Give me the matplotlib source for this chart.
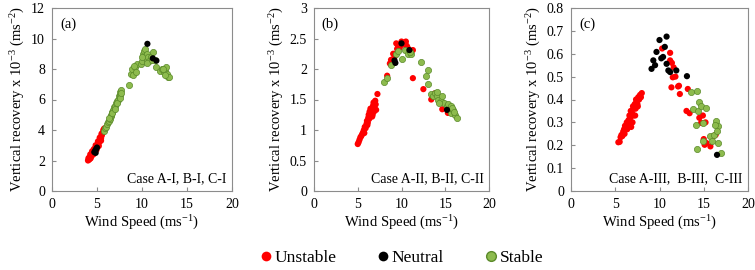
import matplotlib
matplotlib.use("Agg")
import matplotlib.pyplot as plt
from matplotlib.lines import Line2D

plt.rcParams['font.family'] = ['Liberation Serif', 'DejaVu Serif']
plt.rcParams['mathtext.fontset'] = 'custom'
plt.rcParams['mathtext.rm'] = 'Liberation Serif'
plt.rcParams['mathtext.default'] = 'regular'

# ---------------- data ----------------
# Panel (a)
a_unst_x = [4.0,4.1,4.2,4.15,4.3,4.35,4.4,4.5,4.55,4.6,4.7,4.75,4.8,4.9,5.0,5.05,5.1,5.15,5.2,5.25,5.3,5.35,5.4,5.45,5.5,5.55,5.6,5.7,5.8,
            4.05,4.25,4.45,4.65,4.85,5.1,5.3,5.5,4.3,4.6,4.95,5.2,5.45]
a_unst_y = [2.0,2.05,2.1,2.2,2.25,2.35,2.3,2.45,2.5,2.6,2.55,2.7,2.8,2.85,2.9,3.0,3.1,3.05,3.2,3.3,3.25,3.4,3.5,3.45,3.6,3.7,3.8,4.0,4.1,
            2.15,2.4,2.6,2.75,3.0,3.25,3.5,3.75,2.15,2.4,2.7,2.95,3.3]
a_neut_x = [4.7,4.8,4.9,5.0,4.85,10.6,11.6,11.2]
a_neut_y = [2.55,2.65,2.75,2.85,2.5,9.65,8.55,8.7]
a_stab_x = [5.8,5.9,6.0,6.1,6.2,6.3,6.4,6.5,6.6,6.7,6.8,6.9,7.0,7.1,7.2,7.3,7.4,7.5,7.6,7.7,
            8.5,8.8,8.9,9.0,9.2,9.3,9.4,9.9,10.0,10.1,10.2,10.3,10.4,10.5,10.6,10.7,10.8,11.0,11.2,11.4,
            11.5,12.0,12.2,12.4,12.5,12.7,12.8,12.9,13.0,
            6.35,6.65,6.95,7.25,7.55,7.7,9.1,10.0,10.5,11.1,12.3,12.6]
a_stab_y = [3.95,4.1,4.2,4.4,4.5,4.6,4.75,4.9,5.0,5.2,5.3,5.5,5.6,5.75,5.9,6.0,6.2,6.3,6.5,6.6,
            6.95,7.7,8.0,7.6,8.1,7.8,8.3,8.3,8.5,9.0,9.2,9.3,8.9,8.6,9.0,8.8,8.5,8.8,9.1,8.6,
            8.1,7.9,8.0,7.8,7.85,8.1,7.7,7.5,7.45,
            4.8,5.1,5.4,5.8,6.1,6.45,8.2,8.8,8.4,8.6,8.0,7.6]

# Panel (b)
b_unst_x = [5.0,5.1,5.2,5.3,5.4,5.5,5.6,5.7,5.8,5.9,6.0,6.05,6.1,6.2,6.25,6.3,6.35,6.4,6.5,6.55,
            6.6,6.7,6.75,6.8,6.9,7.0,7.05,7.1,7.25,5.75,6.15,6.45,6.65,6.85,
            8.36,8.67,8.8,9.05,9.2,9.4,9.6,9.8,10.0,10.2,10.5,10.7,11.3,11.3,12.5,13.4,13.8,14.66,15.3,
            9.3,9.5,9.9,10.3,10.6]
b_unst_y = [0.77,0.8,0.84,0.88,0.9,0.93,0.96,1.0,1.05,1.03,1.1,1.15,1.08,1.2,1.25,1.18,1.3,1.22,1.28,1.35,
            1.32,1.25,1.4,1.45,1.38,1.48,1.42,1.33,1.59,0.95,1.12,1.35,1.22,1.3,
            1.89,2.09,2.15,2.25,2.2,2.42,2.38,2.35,2.45,2.4,2.45,2.35,2.31,1.85,1.67,1.5,1.6,1.34,1.28,
            2.25,2.33,2.4,2.43,2.38]
b_neut_x = [9.2,9.3,10.0,10.9,15.2]
b_neut_y = [2.14,2.1,2.42,2.31,1.33]
b_stab_x = [8.0,8.3,8.85,9.4,9.6,10.0,10.4,10.7,11.1,11.0,12.2,12.8,13.0,13.0,13.4,13.6,13.8,14.0,14.2,14.47,
            14.6,14.8,15.15,15.3,15.5,15.7,15.9,16.1,16.3,14.1,14.3,15.6,15.8,16.0]
b_stab_y = [1.79,1.85,2.06,2.25,2.3,2.17,2.31,2.25,2.24,2.28,2.11,1.88,1.98,1.75,1.59,1.55,1.6,1.56,1.5,1.48,
            1.55,1.45,1.39,1.42,1.35,1.28,1.32,1.25,1.2,1.62,1.44,1.4,1.36,1.3]

# Panel (c)
c_unst_x = [5.35,5.5,5.6,5.7,5.8,5.9,6.0,6.1,6.2,6.3,6.4,6.5,6.6,6.7,6.75,6.8,6.9,7.0,7.05,7.1,
            7.2,7.3,7.35,7.4,7.5,7.6,7.7,7.8,7.9,8.0,6.05,6.35,6.95,7.25,7.55,
            10.3,11.2,11.2,11.4,11.5,11.35,11.6,11.8,12.1,12.3,12.2,13.05,13.2,13.4,14.5,14.7,14.9,15.0,15.1,15.2,
            15.75,16.05,16.35,15.3]
c_unst_y = [0.213,0.215,0.235,0.245,0.24,0.26,0.27,0.285,0.275,0.3,0.29,0.31,0.33,0.32,0.35,0.28,0.34,0.37,0.33,0.36,
            0.38,0.36,0.4,0.39,0.38,0.41,0.4,0.42,0.41,0.428,0.25,0.27,0.3,0.33,0.37,
            0.623,0.604,0.571,0.56,0.497,0.453,0.54,0.5,0.457,0.424,0.46,0.35,0.446,0.34,0.32,0.298,0.33,0.227,0.202,0.3,
            0.195,0.239,0.246,0.21]
c_neut_x = [9.1,9.3,9.66,10.0,10.8,10.6,10.4,10.8,11.0,11.9,13.1,16.5,9.5,10.2,11.2]
c_neut_y = [0.534,0.571,0.608,0.66,0.675,0.63,0.586,0.556,0.527,0.527,0.502,0.158,0.55,0.58,0.52]
c_stab_x = [13.6,14.2,13.8,14.4,14.1,14.5,14.7,15.3,14.9,14.2,14.9,15.75,16.2,16.4,16.6,16.5,16.6,16.9,16.3,15.9]
c_stab_y = [0.431,0.438,0.357,0.35,0.29,0.387,0.372,0.365,0.298,0.183,0.217,0.239,0.246,0.306,0.283,0.261,0.21,0.168,0.29,0.22]

panels = [
    dict(tag='(a)', case='Case A-I, B-I, C-I', ylim=12, yticks=[0,2,4,6,8,10,12],
         ytl=['0','2','4','6','8','10','12'],
         u=(a_unst_x, a_unst_y), n=(a_neut_x, a_neut_y), s=(a_stab_x, a_stab_y), left=52, width=180),
    dict(tag='(b)', case='Case A-II, B-II, C-II', ylim=3, yticks=[0,0.5,1,1.5,2,2.5,3],
         ytl=['0','0.5','1','1.5','2','2.5','3'],
         u=(b_unst_x, b_unst_y), n=(b_neut_x, b_neut_y), s=(b_stab_x, b_stab_y), left=314, width=175),
    dict(tag='(c)', case='Case A-III,  B-III,  C-III', ylim=0.8, yticks=[0,0.1,0.2,0.3,0.4,0.5,0.6,0.7,0.8],
         ytl=['0','0.1','0.2','0.3','0.4','0.5','0.6','0.7','0.8'],
         u=(c_unst_x, c_unst_y), n=(c_neut_x, c_neut_y), s=(c_stab_x, c_stab_y), left=571, width=177),
]

W, H = 755, 270
fig = plt.figure(figsize=(W/100, H/100), dpi=100)

RED = '#FF0000'
GREEN = '#8DBB4E'
GREEN_EDGE = '#5B8A2A'
GRAY = '#8C8C8C'
ms = 20

for p in panels:
    ax = fig.add_axes([p['left']/W, 1-191/H, p['width']/W, 183/H])
    ax.scatter(*p['u'], s=ms, c=RED, edgecolors='none', zorder=3)
    ax.scatter(*p['s'], s=ms, c=GREEN, edgecolors=GREEN_EDGE, linewidths=0.5, zorder=3)
    ax.scatter(*p['n'], s=ms, c='black', edgecolors='none', zorder=4)
    ax.set_xlim(0, 20)
    ax.set_ylim(0, p['ylim'])
    ax.set_xticks([0,5,10,15,20])
    ax.set_yticks(p['yticks'])
    ax.set_yticklabels(p['ytl'])
    for sp in ax.spines.values():
        sp.set_color(GRAY)
        sp.set_linewidth(0.8)
    ax.tick_params(direction='in', length=3, width=0.8, color=GRAY, labelcolor='black',
                   labelsize=10, pad=5)
    ax.set_xlabel('Wind Speed (ms$^{-1}$)', fontsize=10.5, labelpad=2)
    ax.set_ylabel('Vertical recovery x 10$^{-3}$ (ms$^{-2}$)', fontsize=10.5, labelpad=3)
    ax.text(0.045, 0.91, p['tag'], transform=ax.transAxes, fontsize=10.5, va='center', ha='left')
    ax.text(0.97, 0.065, p['case'], transform=ax.transAxes, fontsize=10, va='center', ha='right')

handles = [
    Line2D([], [], marker='o', ls='none', markersize=7, markerfacecolor=RED, markeredgecolor='none', label='Unstable'),
    Line2D([], [], marker='o', ls='none', markersize=7, markerfacecolor='black', markeredgecolor='none', label='Neutral'),
    Line2D([], [], marker='o', ls='none', markersize=7, markerfacecolor=GREEN, markeredgecolor=GREEN_EDGE, label='Stable'),
]
fig.legend(handles=handles, loc='center', bbox_to_anchor=(0.53, 1-258/H), ncol=3, frameon=False,
           prop={'family': 'Liberation Serif', 'size': 12.5}, handletextpad=0.0, columnspacing=2.2,
           handlelength=1.0)

fig.savefig('out.png', dpi=100)
